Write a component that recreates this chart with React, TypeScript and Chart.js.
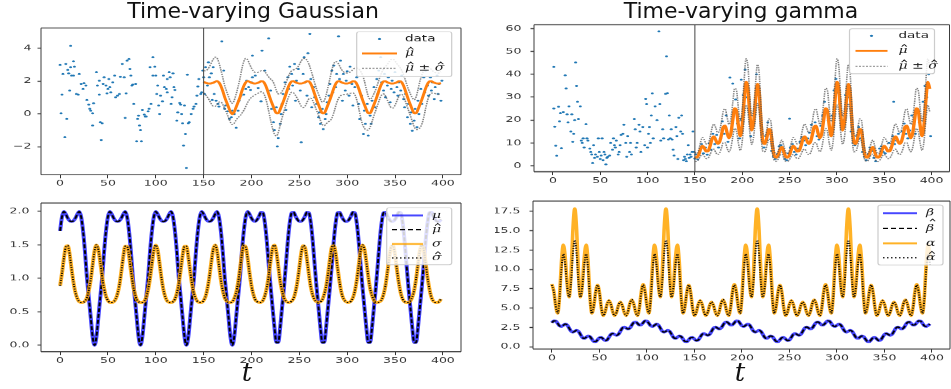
import React, { useEffect, useRef } from 'react';
import { Chart, registerables } from 'chart.js';

Chart.register(...registerables);

// vertical squash of the plot panels (the reference figure is compressed vertically)
const SY = 0.65;
const SPLIT_T = 150;

// ---------------- ticks ----------------
const X_TICKS = [0, 50, 100, 150, 200, 250, 300, 350, 400];
const Y_TICKS_GAUSS = [-2, 0, 2, 4];
const Y_TICKS_GAMMA = [0, 10, 20, 30, 40, 50, 60];
const Y_TICKS_MUSIG = [0, 0.5, 1, 1.5, 2];
const Y_TICKS_ALPHABETA = [0, 2.5, 5, 7.5, 10, 12.5, 15, 17.5];

// ---------------- time grids ----------------
const CURVE_T = Array.from({ length: 200 }, (_, i) => i * 2); // 0..398
const FIT_T = Array.from({ length: 125 }, (_, i) => 150 + i * 2); // 150..398

// ---------------- Gaussian parameters (bottom-left) ----------------
const mu = [
  1.71, 1.92, 2.0, 1.96, 1.9, 1.86, 1.85, 1.86, 1.9, 1.96, 2.0, 1.92, 1.71, 1.4, 1.02, 0.72, 0.42, 0.13, 0.0,
  0.13, 0.42, 0.72, 1.02, 1.4, 1.71, 1.92, 2.0, 1.96, 1.9, 1.86, 1.85, 1.86, 1.9, 1.96, 2.0, 1.92, 1.71, 1.4, 1.02, 0.72, 0.42, 0.13, 0.0,
  0.13, 0.42, 0.72, 1.02, 1.4, 1.71, 1.92, 2.0, 1.96, 1.9, 1.86, 1.85, 1.86, 1.9, 1.96, 2.0, 1.92, 1.71, 1.4, 1.02, 0.72, 0.42, 0.13, 0.0,
  0.13, 0.42, 0.72, 1.02, 1.4, 1.71, 1.92, 2.0, 1.96, 1.9, 1.86, 1.85, 1.86, 1.9, 1.96, 2.0, 1.92, 1.71, 1.4, 1.02, 0.72, 0.42, 0.13, 0.0,
  0.13, 0.42, 0.72, 1.02, 1.4, 1.71, 1.92, 2.0, 1.96, 1.9, 1.86, 1.85, 1.88, 1.93, 1.99, 1.98, 1.83, 1.56, 1.21, 0.87, 0.57, 0.27, 0.04,
  0.04, 0.27, 0.57, 0.87, 1.21, 1.56, 1.83, 1.98, 1.99, 1.93, 1.88, 1.85, 1.85, 1.88, 1.93, 1.99, 1.98, 1.83, 1.56, 1.21, 0.87, 0.57, 0.27, 0.04,
  0.04, 0.27, 0.57, 0.87, 1.21, 1.56, 1.83, 1.98, 1.99, 1.93, 1.88, 1.85, 1.85, 1.88, 1.93, 1.99, 1.98, 1.83, 1.56, 1.21, 0.87, 0.57, 0.27, 0.04,
  0.04, 0.27, 0.57, 0.87, 1.21, 1.56, 1.83, 1.98, 1.99, 1.93, 1.88, 1.85, 1.85, 1.88, 1.93, 1.99, 1.98, 1.83, 1.56, 1.21, 0.87, 0.57, 0.27, 0.04,
  0.04, 0.27, 0.57, 0.87, 1.21, 1.56, 1.83, 1.98, 1.99, 1.93, 1.88, 1.85, 1.85, 1.88,
];
const muHat = mu;

const sigma = [
  0.89, 1.08, 1.3, 1.47, 1.49, 1.36, 1.14, 0.94, 0.79, 0.7, 0.65, 0.64,
  0.64, 0.66, 0.71, 0.82, 0.98, 1.2, 1.41, 1.5, 1.43, 1.24, 1.02, 0.85, 0.73, 0.67, 0.64,
  0.64, 0.65, 0.69, 0.77, 0.9, 1.1, 1.32, 1.48, 1.48, 1.34, 1.12, 0.92, 0.78, 0.69, 0.65, 0.64,
  0.64, 0.66, 0.72, 0.83, 1.0, 1.22, 1.42, 1.5, 1.42, 1.22, 1.0, 0.83, 0.72, 0.66, 0.64,
  0.64, 0.65, 0.69, 0.78, 0.92, 1.12, 1.34, 1.48, 1.48, 1.32, 1.1, 0.9, 0.77, 0.69, 0.65, 0.64,
  0.64, 0.67, 0.73, 0.85, 1.02, 1.24, 1.43, 1.5, 1.41, 1.2, 0.98, 0.82, 0.71, 0.66, 0.64,
  0.64, 0.65, 0.7, 0.79, 0.94, 1.14, 1.36, 1.49, 1.47, 1.3, 1.08, 0.89, 0.76, 0.68, 0.65, 0.64,
  0.64, 0.67, 0.74, 0.86, 1.04, 1.26, 1.45, 1.5, 1.39, 1.18, 0.96, 0.81, 0.71, 0.66, 0.64,
  0.64, 0.66, 0.7, 0.8, 0.95, 1.16, 1.38, 1.49, 1.46, 1.28, 1.06, 0.87, 0.75, 0.68, 0.65,
  0.64, 0.65, 0.68, 0.76, 0.88, 1.07, 1.29, 1.47, 1.49, 1.37, 1.15, 0.95, 0.79, 0.7, 0.66, 0.64,
  0.64, 0.66, 0.71, 0.81, 0.97, 1.19, 1.4, 1.5, 1.44, 1.25, 1.03, 0.85, 0.74, 0.67, 0.64,
  0.64, 0.65, 0.68, 0.76, 0.89, 1.09, 1.31, 1.47, 1.49, 1.35, 1.13, 0.93, 0.78, 0.69, 0.65, 0.64,
  0.64, 0.66, 0.72, 0.82, 0.99, 1.21, 1.42, 1.5, 1.43, 1.23, 1.01, 0.84, 0.72, 0.66, 0.64, 0.64, 0.65, 0.69,
];
const sigmaHat = sigma;

// ---------------- gamma parameters (bottom-right) ----------------
const alpha = [
  8.1, 7.15, 5.25, 4.3, 6.53, 10.98, 13.2, 11.5, 8.1, 6.4, 9.28, 15.03, 17.9, 15.03, 9.28, 6.4, 8.1, 11.5, 13.2, 10.98, 6.53, 4.3, 5.23, 7.08,
  8.0, 7.0, 5.0, 4.0, 4.5, 5.5, 6.0, 5.5, 4.5, 4.0, 4.45, 5.35, 5.8, 5.35, 4.45, 4.0, 4.53, 5.58, 6.1, 5.58, 4.53, 4.0, 5.03, 7.08,
  8.1, 7.15, 5.25, 4.3, 6.53, 10.98, 13.2, 11.5, 8.1, 6.4, 9.28, 15.03, 17.9, 15.03, 9.28, 6.4, 8.1, 11.5, 13.2, 10.98, 6.53, 4.3, 5.23, 7.08,
  8.0, 7.0, 5.0, 4.0, 4.5, 5.5, 6.0, 5.5, 4.5, 4.0, 4.45, 5.35, 5.8, 5.35, 4.45, 4.0, 4.53, 5.58, 6.1, 5.58, 4.53, 4.0, 5.03, 7.08,
  8.1, 7.15, 5.25, 4.3, 6.53, 10.98, 13.2, 11.5, 8.1, 6.4, 9.28, 15.03, 17.9, 15.03, 9.28, 6.4, 8.1, 11.5, 13.2, 10.98, 6.53, 4.3, 5.23, 7.08,
  8.0, 7.0, 5.0, 4.0, 4.5, 5.5, 6.0, 5.5, 4.5, 4.0, 4.45, 5.35, 5.8, 5.35, 4.45, 4.0, 4.53, 5.58, 6.1, 5.58, 4.53, 4.0, 5.03, 7.08,
  8.1, 7.15, 5.25, 4.3, 6.53, 10.98, 13.2, 11.5, 8.1, 6.4, 9.28, 15.03, 17.9, 15.03, 9.28, 6.4, 8.1, 11.5, 13.2, 10.98, 6.53, 4.3, 5.23, 7.08,
  8.0, 7.0, 5.0, 4.0, 4.5, 5.5, 6.0, 5.5, 4.5, 4.0, 4.45, 5.35, 5.8, 5.35, 4.45, 4.0, 4.53, 5.58, 6.1, 5.58, 4.53, 4.0, 5.03, 7.08,
  8.1, 7.15, 5.25, 4.3, 6.53, 10.98, 13.2, 11.5,
];
const alphaHat = [
  8.0, 7.08, 5.23, 4.3, 6.23, 10.08, 12.0, 10.6, 7.8, 6.4, 8.25, 11.95, 13.8, 11.95, 8.25, 6.4, 7.8, 10.6, 12.0, 10.08, 6.23, 4.3, 5.23, 7.08,
  8.0, 7.0, 5.0, 4.0, 4.5, 5.5, 6.0, 5.5, 4.5, 4.0, 4.45, 5.35, 5.8, 5.35, 4.45, 4.0, 4.53, 5.58, 6.1, 5.58, 4.53, 4.0, 5.0, 7.0,
  8.0, 7.08, 5.23, 4.3, 6.23, 10.08, 12.0, 10.6, 7.8, 6.4, 8.25, 11.95, 13.8, 11.95, 8.25, 6.4, 7.8, 10.6, 12.0, 10.08, 6.23, 4.3, 5.23, 7.08,
  8.0, 7.0, 5.0, 4.0, 4.5, 5.5, 6.0, 5.5, 4.5, 4.0, 4.45, 5.35, 5.8, 5.35, 4.45, 4.0, 4.53, 5.58, 6.1, 5.58, 4.53, 4.0, 5.0, 7.0,
  8.0, 7.08, 5.23, 4.3, 6.23, 10.08, 12.0, 10.6, 7.8, 6.4, 8.25, 11.95, 13.8, 11.95, 8.25, 6.4, 7.8, 10.6, 12.0, 10.08, 6.23, 4.3, 5.23, 7.08,
  8.0, 7.0, 5.0, 4.0, 4.5, 5.5, 6.0, 5.5, 4.5, 4.0, 4.45, 5.35, 5.8, 5.35, 4.45, 4.0, 4.53, 5.58, 6.1, 5.58, 4.53, 4.0, 5.0, 7.0,
  8.0, 7.08, 5.23, 4.3, 6.23, 10.08, 12.0, 10.6, 7.8, 6.4, 8.25, 11.95, 13.8, 11.95, 8.25, 6.4, 7.8, 10.6, 12.0, 10.08, 6.23, 4.3, 5.23, 7.08,
  8.0, 7.0, 5.0, 4.0, 4.5, 5.5, 6.0, 5.5, 4.5, 4.0, 4.45, 5.35, 5.8, 5.35, 4.45, 4.0, 4.53, 5.58, 6.1, 5.58, 4.53, 4.0, 5.0, 7.0,
  8.0, 7.08, 5.23, 4.3, 6.23, 10.08, 12.0, 10.6,
];
const beta = [
  3.1, 3.35, 3.32, 3.02, 2.69, 2.61, 2.78, 2.93, 2.81, 2.42, 2.02, 1.88, 2.0, 2.12, 1.98, 1.58, 1.19, 1.07, 1.22, 1.39, 1.31, 0.98, 0.68, 0.65,
  0.9, 1.17, 1.2, 0.98, 0.79, 0.87, 1.22, 1.59, 1.71, 1.58, 1.46, 1.6, 2.0, 2.4, 2.54, 2.42, 2.29, 2.41, 2.78, 3.13, 3.21, 3.02, 2.8, 2.83,
  3.1, 3.35, 3.32, 3.02, 2.69, 2.61, 2.78, 2.93, 2.81, 2.42, 2.02, 1.88, 2.0, 2.12, 1.98, 1.58, 1.19, 1.07, 1.22, 1.39, 1.31, 0.98, 0.68, 0.65,
  0.9, 1.17, 1.2, 0.98, 0.79, 0.87, 1.22, 1.59, 1.71, 1.58, 1.46, 1.6, 2.0, 2.4, 2.54, 2.42, 2.29, 2.41, 2.78, 3.13, 3.21, 3.02, 2.8, 2.83,
  3.1, 3.35, 3.32, 3.02, 2.69, 2.61, 2.78, 2.93, 2.81, 2.42, 2.02, 1.88, 2.0, 2.12, 1.98, 1.58, 1.19, 1.07, 1.22, 1.39, 1.31, 0.98, 0.68, 0.65,
  0.9, 1.17, 1.2, 0.98, 0.79, 0.87, 1.22, 1.59, 1.71, 1.58, 1.46, 1.6, 2.0, 2.4, 2.54, 2.42, 2.29, 2.41, 2.78, 3.13, 3.21, 3.02, 2.8, 2.83,
  3.1, 3.35, 3.32, 3.02, 2.69, 2.61, 2.78, 2.93, 2.81, 2.42, 2.02, 1.88, 2.0, 2.12, 1.98, 1.58, 1.19, 1.07, 1.22, 1.39, 1.31, 0.98, 0.68, 0.65,
  0.9, 1.17, 1.2, 0.98, 0.79, 0.87, 1.22, 1.59, 1.71, 1.58, 1.46, 1.6, 2.0, 2.4, 2.54, 2.42, 2.29, 2.41, 2.78, 3.13, 3.21, 3.02, 2.8, 2.83,
  3.1, 3.35, 3.32, 3.02, 2.69, 2.61, 2.78, 2.93,
];
const betaHat = beta;

// ---------------- gamma fit (top-right), t = 150..398 ----------------
const gammaMuHat = [
  3.9, 3.6, 4.8, 7.3, 8.7, 7.7, 6.3, 6.5, 8.6, 11.6, 12.8, 11.3, 9.7, 10.4, 13.4, 17.0, 17.5, 14.5, 12.1, 14.1, 20.0,
  25.1, 24.0, 17.4, 13.0, 17.6, 28.7, 36.7, 33.7, 22.8, 15.5, 18.7, 28.3, 35.8, 31.9, 18.4, 10.1, 9.6, 12.3, 16.1, 15.3, 8.6, 4.2, 3.6, 4.6,
  7.2, 8.2, 6.0, 3.9, 3.6, 4.8, 7.3, 8.7, 7.7, 6.3, 6.5, 8.6, 11.6, 12.8, 11.3, 9.7, 10.4, 13.4, 17.0, 17.5, 14.5, 12.1, 14.1, 20.0,
  25.1, 24.0, 17.4, 13.0, 17.6, 28.7, 36.7, 33.7, 22.8, 15.5, 18.7, 28.3, 35.8, 31.9, 18.4, 10.1, 9.6, 12.3, 16.1, 15.3, 8.6, 4.2, 3.6, 4.6,
  7.2, 8.2, 6.0, 3.9, 3.6, 4.8, 7.3, 8.7, 7.7, 6.3, 6.5, 8.6, 11.6, 12.8, 11.3, 9.7, 10.4, 13.4, 17.0, 17.5, 14.5, 12.1, 14.1, 20.0,
  25.1, 24.0, 17.4, 13.0, 17.6, 28.7, 36.7, 33.7,
];
const gammaSdHat = [
  2.0, 1.7, 2.0, 3.0, 3.7, 3.6, 3.2, 3.1, 3.7, 4.8, 5.5, 5.4, 4.8, 4.9, 5.7, 6.9, 7.4, 6.8, 6.0, 6.3, 7.5,
  8.8, 8.9, 7.6, 6.3, 6.9, 8.6, 10.1, 9.9, 8.0, 6.1, 6.2, 7.3, 8.5, 8.2, 6.0, 4.0, 3.4, 3.6, 4.4, 4.6, 3.4, 2.0, 1.6, 1.7,
  2.5, 3.1, 2.7, 2.0, 1.7, 2.0, 3.0, 3.7, 3.6, 3.2, 3.1, 3.7, 4.8, 5.5, 5.4, 4.8, 4.9, 5.7, 6.9, 7.4, 6.8, 6.0, 6.3, 7.5,
  8.8, 8.9, 7.6, 6.3, 6.9, 8.6, 10.1, 9.9, 8.0, 6.1, 6.2, 7.3, 8.5, 8.2, 6.0, 4.0, 3.4, 3.6, 4.4, 4.6, 3.4, 2.0, 1.6, 1.7,
  2.5, 3.1, 2.7, 2.0, 1.7, 2.0, 3.0, 3.7, 3.6, 3.2, 3.1, 3.7, 4.8, 5.5, 5.4, 4.8, 4.9, 5.7, 6.9, 7.4, 6.8, 6.0, 6.3, 7.5,
  8.8, 8.9, 7.6, 6.3, 6.9, 8.6, 10.1, 9.9,
];

// ---------------- observed data (top panels) ----------------
const gaussT = [
  0, 1, 2, 3, 5, 6, 7, 8, 9, 10, 11, 11, 12, 14, 14, 15, 17, 19, 20, 22, 24, 25, 27, 28, 30, 31, 32, 34, 34, 35,
  38, 39, 41, 41, 42, 43, 44, 45, 46, 48, 49, 50, 51, 52, 53, 55, 57, 58, 60, 62, 63, 65, 67, 68, 69, 70, 72, 73, 74, 75,
  76, 77, 79, 80, 81, 82, 83, 84, 85, 86, 88, 89, 90, 92, 93, 94, 95, 97, 97, 99, 100, 101, 102, 103, 104, 105, 107, 108, 109, 111,
  112, 112, 114, 115, 116, 117, 118, 119, 120, 122, 123, 125, 126, 127, 128, 129, 130, 131, 132, 133, 134, 135, 137, 139, 140, 142, 143, 144, 145, 147,
  148, 149, 150, 151, 152, 154, 155, 156, 158, 159, 160, 161, 163, 165, 166, 169, 171, 172, 173, 175, 177, 179, 180, 182, 184, 186, 187, 189, 192, 194,
  195, 197, 199, 200, 201, 201, 204, 207, 210, 211, 214, 218, 220, 221, 223, 224, 226, 227, 228, 230, 231, 232, 233, 235, 236, 238, 239, 240, 242, 243,
  245, 246, 247, 249, 251, 252, 254, 255, 256, 258, 259, 261, 262, 263, 265, 266, 268, 270, 271, 272, 274, 275, 277, 278, 279, 281, 282, 284, 285, 286,
  288, 289, 291, 292, 293, 295, 296, 298, 299, 300, 302, 303, 305, 306, 308, 310, 312, 313, 315, 317, 318, 319, 321, 322, 324, 325, 326, 328, 329, 331,
  332, 333, 335, 336, 338, 339, 340, 342, 343, 345, 346, 347, 349, 350, 352, 353, 354, 356, 357, 359, 360, 361, 363, 364, 366, 367, 368, 370, 371, 373,
  374, 375, 377, 378, 380, 381, 382, 384, 385, 387, 388, 389, 391, 392, 394, 395, 396, 398, 399,
];
const gaussY = [
  2.99, 0.04, 1.18, 2.44, -1.42, 3.05, -0.3, 2.68, 2.48, 1.42, 4.15, 2.85, 2.34, 3.21, 2.34, 2.88, 1.22, 1.18, 2.44, 1.83, 1.52, 1.87, 1.73, 0.85, 0.57, 0.31, 0.2, -0.71, 0.04, 0.65,
  2.54, 1.73, 1.18, 2.03, -0.51, -1.59, -0.57, 1.83, 2.24, 1.73, 1.26, 1.52, 2.13, 1.63, 1.32, 1.93, 2.34, 1.02, 1.12, 1.22, 2.27, 3.05, 2.24, -0.24, 1.26, 3.25, 3.35, 2.74, 2.34, 1.73,
  1.79, 0.61, 1.83, -1.67, -0.3, -0.1, -0.71, -0.98, -1.67, 0.24, -0.04, -0.16, -0.16, 0.16, 0.31, 2.85, 0.61, 3.46, 2.34, 2.88, 2.34, 1.22, 1.73, 0.51, 0.0, 1.12, 0.77, 2.34, 1.63, 1.52,
  2.13, 1.32, 2.54, 2.24, 0.61, 1.02, 2.48, 1.63, 1.46, -0.41, 0.1, 0.67, 0.57, 0.0, -0.57, -1.93, 0.51, -1.22, -3.29, 2.4, -0.57, -0.51, 0.0, 0.31, 0.45, 0.61, 1.12, 1.67, 2.13, 1.22,
  1.32, 2.64, 2.24, 1.22, 2.85, 1.73, 3.15, 2.24, 2.48, 0.85, 2.85, 1.22, 0.81, 0.61, 0.45, 4.43, 2.64, 0.31, 0.51, 0.16, -0.3, -0.2, 0.2, 0.0, -0.85, 0.2, 0.81, 1.12, 1.18, 1.52,
  2.03, 1.63, 1.46, 1.93, 2.24, 3.56, 2.34, 1.58, 0.77, 3.86, 2.64, 4.61, 1.42, 0.3, -0.51, -0.98, 0.4, -1.99, -1.47, -0.61, 0.0, 0.61, 1.22, 1.93, 0.24, 2.24, 1.52, 2.88, 2.44, 1.73,
  3.05, 0.81, 2.03, 2.74, 1.42, -1.73, 2.44, 3.46, 1.93, 1.12, 3.7, 4.88, 2.13, 0.4, 1.63, 1.02, 0.61, -0.2, 0.1, -0.61, 0.3, -0.92, -0.31, 0.0, 0.71, 1.12, 1.83, 2.64, 1.32, 2.95,
  1.63, 2.44, 4.74, 2.13, 3.25, 0.81, 2.44, 1.42, 2.03, 2.6, 1.12, 2.88, 1.83, 0.51, 1.63, 2.24, 0.61, -0.31, 1.12, -1.22, 0.2, -0.61, 0.61, -1.32, -0.1, -0.61, 0.81, 1.63, 0.4, 2.13,
  1.22, 2.64, 3.46, 1.93, 1.42, 2.44, 1.02, 1.73, 2.24, 0.71, 1.52, 2.03, 1.32, 2.54, 1.63, 1.12, 1.93, 1.42, 2.34, 0.91, 0.4, 1.22, -0.2, 0.61, -0.61, 0.1, -1.02, -0.41, 0.3, -0.81,
  0.81, 0.0, 1.52, 0.61, 2.24, 1.32, 2.64, 1.73, 1.12, 2.24, 1.42, 1.93, 0.91, 1.63, 2.34, 1.22, 1.83, 0.81, 2.03,
];
const gammaT = [
  1, 1, 2, 3, 4, 6, 7, 8, 9, 11, 13, 14, 15, 16, 17, 19, 20, 21, 22, 23, 24, 25, 26, 27, 29, 30, 31, 32, 33, 35,
  36, 37, 39, 40, 41, 42, 43, 44, 45, 47, 48, 49, 50, 51, 52, 53, 54, 55, 56, 57, 58, 60, 61, 63, 64, 65, 66, 67, 69, 70,
  71, 72, 74, 75, 77, 78, 79, 81, 82, 83, 86, 87, 88, 89, 91, 92, 93, 95, 97, 98, 99, 100, 101, 102, 103, 104, 105, 106, 108, 110,
  112, 113, 114, 116, 117, 119, 120, 121, 122, 123, 124, 125, 126, 127, 128, 130, 131, 132, 133, 135, 136, 137, 138, 139, 140, 141, 142, 143, 144, 145,
  146, 147, 148, 149, 150, 151, 153, 155, 157, 159, 161, 163, 165, 167, 169, 171, 173, 175, 177, 179, 181, 183, 185, 187, 189, 190, 191, 193, 195, 197,
  199, 199, 201, 203, 205, 207, 209, 211, 213, 215, 217, 219, 221, 223, 225, 227, 229, 231, 233, 235, 237, 239, 241, 243, 245, 247, 249, 250, 251, 253,
  255, 257, 259, 261, 263, 265, 267, 269, 271, 273, 275, 277, 279, 281, 283, 285, 287, 289, 291, 293, 295, 297, 299, 301, 303, 305, 307, 309, 311, 313,
  315, 317, 319, 321, 323, 325, 327, 329, 331, 333, 335, 337, 339, 341, 343, 345, 347, 349, 351, 353, 355, 357, 359, 360, 361, 363, 365, 367, 369, 371,
  373, 375, 377, 379, 381, 383, 385, 387, 389, 391, 393, 395, 397, 399,
];
const gammaY = [
  43.3, 25.1, 17.1, 8.8, 4.4, 25.9, 19.5, 23.0, 7.7, 23.5, 39.6, 33.8, 22.5, 19.0, 26.0, 15.0, 22.5, 10.5, 14.0, 20.0, 45.2, 35.0, 28.0, 20.5, 26.0, 11.0, 10.0, 12.0, 8.0, 18.2,
  12.0, 11.0, 7.5, 6.0, 5.0, 1.2, 9.0, 3.5, 5.0, 4.0, 12.0, 6.0, 3.0, 4.5, 12.0, 2.5, 6.0, 5.0, 0.6, 3.5, 4.0, 4.5, 10.0, 7.0, 12.0, 9.0, 8.0, 11.0, 5.0, 6.0,
  9.0, 13.5, 14.0, 18.0, 10.0, 4.0, 13.0, 6.0, 10.0, 5.0, 20.5, 16.0, 8.0, 10.0, 18.0, 15.0, 6.0, 17.0, 9.0, 29.3, 27.0, 8.0, 14.0, 17.0, 10.0, 22.0, 31.7, 12.0, 26.0, 20.0,
  58.8, 27.0, 11.0, 16.0, 12.0, 31.5, 47.9, 31.8, 11.5, 22.0, 12.0, 16.0, 11.5, 7.0, 4.5, 17.0, 13.0, 3.0, 21.0, 15.0, 22.0, 14.0, 2.5, 4.0, 3.0, 2.0, 5.0, 9.0, 3.5, 5.0,
  4.0, 6.0, 15.0, 6.0, 3.2, 5.0, 2.8, 6.2, 9.5, 5.5, 8.0, 4.9, 9.8, 7.0, 14.0, 9.5, 13.5, 8.0, 12.0, 19.5, 14.0, 22.0, 10.5, 38.6, 16.0, 36.0, 22.0, 29.0, 18.5, 12.0,
  37.7, 20.5, 31.0, 42.0, 30.0, 25.0, 13.0, 17.5, 24.0, 40.0, 31.0, 26.0, 11.0, 8.0, 13.0, 19.0, 14.0, 6.5, 4.0, 3.0, 5.0, 8.5, 9.0, 6.0, 3.0, 2.5, 5.5, 20.6, 8.0, 9.5,
  6.0, 5.0, 7.5, 10.5, 12.5, 11.0, 9.0, 12.0, 14.5, 18.0, 15.0, 19.0, 13.0, 11.5, 17.5, 22.0, 28.0, 24.0, 20.0, 15.0, 22.0, 33.0, 38.0, 32.0, 27.0, 16.0, 20.0, 31.0, 34.0, 30.0,
  15.0, 10.0, 9.0, 13.0, 17.0, 12.0, 6.0, 4.0, 2.5, 5.0, 8.0, 6.5, 3.5, 2.0, 4.0, 7.5, 8.5, 6.0, 5.5, 7.0, 10.0, 8.0, 13.0, 28.0, 9.5, 11.0, 14.0, 10.0, 15.0, 18.5,
  14.0, 12.0, 15.5, 22.0, 18.0, 14.0, 23.0, 19.0, 16.0, 28.0, 35.0, 30.0, 40.0, 13.0,
];

// ---------------- helpers ----------------
const pts = (xs: number[], ys: number[]) => xs.map((x, i) => ({ x, y: ys[i] }));
const fitIdx = CURVE_T.indexOf(SPLIT_T);

const C_DATA = '#1f77b4';
const C_ORANGE = '#ff7f0e';
const C_BAND = 'rgba(85,85,85,0.75)';
const C_BLUE = 'rgba(0,0,255,0.72)';
const C_GOLD = 'rgba(255,165,0,0.85)';
const C_BLACK = '#000000';

function lineDs(data: any[], color: string, width: number, dash: number[], order: number) {
  return {
    type: 'line',
    data,
    borderColor: color,
    borderWidth: width,
    borderDash: dash,
    pointRadius: 0,
    pointHoverRadius: 0,
    fill: false,
    cubicInterpolationMode: 'monotone',
    order,
  };
}
function scatterDs(data: any[], order: number) {
  return {
    type: 'line',
    data,
    showLine: false,
    pointRadius: 1.5,
    pointHoverRadius: 0,
    pointBorderWidth: 0,
    pointBackgroundColor: C_DATA,
    order,
  };
}

const fmtMinus = (v: number) => (v < 0 ? '\u2212' + Math.abs(v) : String(v));
const fmt1 = (v: number) => Number(v).toFixed(1);

const LEG_MATH = 'italic 14px "DejaVu Serif"';
const LEG_TEXT = '13.5px "DejaVu Sans"';

// legend label parts: [text, hasHat, isMath, extra hat lift]
const L_DATA = [['data', false, false, 0]];
const L_MU = [['\u03bc', false, true, 0]];
const L_MUHAT = [['\u03bc', true, true, 0]];
const L_BAND = [['\u03bc', true, true, 0], [' \u00b1 ', false, true, 0], ['\u03c3', true, true, 0]];
const L_SIG = [['\u03c3', false, true, 0]];
const L_SIGHAT = [['\u03c3', true, true, 0]];
const L_BETA = [['\u03b2', false, true, 0]];
const L_BETAHAT = [['\u03b2', true, true, 4.5]];
const L_ALPHA = [['\u03b1', false, true, 0]];
const L_ALPHAHAT = [['\u03b1', true, true, 0]];

// ---------------- panel specifications ----------------
const gaussFitMu = muHat.slice(fitIdx);
const gaussFitSd = sigmaHat.slice(fitIdx);

const PANELS: any[] = [
  {
    key: 'gauss',
    left: 0, top: 14, width: 470, height: 181,
    yAxisW: 41, padTop: 14, padRight: 9, xAxisH: 20, yPad: 6,
    xMin: -19.95, xMax: 418.95, yMin: -3.71, yMax: 5.24,
    yTicks: Y_TICKS_GAUSS, yFmt: fmtMinus, split: SPLIT_T,
    datasets: [
      scatterDs(pts(gaussT, gaussY), 4),
      lineDs(pts(FIT_T, gaussFitMu), C_ORANGE, 3, [], 3),
      lineDs(pts(FIT_T, gaussFitMu.map((m, i) => m + gaussFitSd[i])), C_BAND, 1.6, [2, 1.5], 2),
      lineDs(pts(FIT_T, gaussFitMu.map((m, i) => m - gaussFitSd[i])), C_BAND, 1.6, [2, 1.5], 1),
    ],
    legend: {
      right: 9.3, top: 3.7, w: 95, h: 45, handleX: 5.3, handleLen: 35, textX: 48.3, rows: [7.3, 21.8, 36.6],
      items: [
        { parts: L_DATA, kind: 'dot', color: C_DATA },
        { parts: L_MUHAT, kind: 'line', color: C_ORANGE, width: 3 },
        { parts: L_BAND, kind: 'line', color: C_BAND, width: 1.4, dash: [2, 1.5] },
      ],
    },
  },
  {
    key: 'gamma',
    left: 495, top: 14, width: 456, height: 181,
    yAxisW: 39, padTop: 10, padRight: 1, xAxisH: 23, yPad: 9,
    xMin: -19.95, xMax: 418.95, yMin: -2.6, yMax: 61.7,
    yTicks: Y_TICKS_GAMMA, yFmt: (v: number) => String(v), split: SPLIT_T,
    datasets: [
      scatterDs(pts(gammaT, gammaY), 4),
      lineDs(pts(FIT_T, gammaMuHat), C_ORANGE, 3.4, [], 3),
      lineDs(pts(FIT_T, gammaMuHat.map((m, i) => m + gammaSdHat[i])), C_BAND, 1.6, [2, 1.5], 2),
      lineDs(pts(FIT_T, gammaMuHat.map((m, i) => m - gammaSdHat[i])), C_BAND, 1.6, [2, 1.5], 1),
    ],
    legend: {
      right: 15, top: 4, w: 85, h: 45, handleX: 6, handleLen: 32, textX: 49, rows: [7, 22, 37.5],
      items: [
        { parts: L_DATA, kind: 'dot', color: C_DATA },
        { parts: L_MUHAT, kind: 'line', color: C_ORANGE, width: 3 },
        { parts: L_BAND, kind: 'line', color: C_BAND, width: 1.4, dash: [2, 1.5] },
      ],
    },
  },
  {
    key: 'musig',
    left: 0, top: 190, width: 470, height: 195,
    yAxisW: 41, padTop: 13, padRight: 9, xAxisH: 33.3, yPad: 8,
    xMin: -19.95, xMax: 418.95, yMin: -0.096, yMax: 2.126,
    yTicks: Y_TICKS_MUSIG, yFmt: fmt1,
    datasets: [
      lineDs(pts(CURVE_T, mu), C_BLUE, 4, [], 4),
      lineDs(pts(CURVE_T, muHat), C_BLACK, 2, [6, 3], 3),
      lineDs(pts(CURVE_T, sigma), C_GOLD, 4, [], 2),
      lineDs(pts(CURVE_T, sigmaHat), C_BLACK, 2, [1.5, 2.2], 1),
    ],
    legend: {
      right: 9.3, top: 4.7, w: 65, h: 57, handleX: 5.3, handleLen: 31, textX: 45.3, rows: [7.7, 22, 36.3, 50.3],
      items: [
        { parts: L_MU, kind: 'line', color: C_BLUE, width: 3 },
        { parts: L_MUHAT, kind: 'line', color: C_BLACK, width: 2, dash: [5, 3] },
        { parts: L_SIG, kind: 'line', color: C_GOLD, width: 3 },
        { parts: L_SIGHAT, kind: 'line', color: C_BLACK, width: 2, dash: [1.5, 2.5] },
      ],
    },
  },
  {
    key: 'alphabeta',
    left: 495, top: 190, width: 456, height: 195,
    yAxisW: 38, padTop: 11, padRight: 1, xAxisH: 36, yPad: 9,
    xMin: -19.95, xMax: 418.95, yMin: -0.3, yMax: 18.85,
    yTicks: Y_TICKS_ALPHABETA, yFmt: fmt1,
    datasets: [
      lineDs(pts(CURVE_T, beta), C_BLUE, 4, [], 4),
      lineDs(pts(CURVE_T, betaHat), C_BLACK, 2, [6, 3], 3),
      lineDs(pts(CURVE_T, alpha), C_GOLD, 3.6, [], 2),
      lineDs(pts(CURVE_T, alphaHat), C_BLACK, 2, [1.5, 2.2], 1),
    ],
    legend: {
      right: 7, top: 4, w: 65, h: 60, handleX: 5, handleLen: 34, textX: 48, rows: [8.3, 23.3, 38.3, 52.7],
      items: [
        { parts: L_BETA, kind: 'line', color: C_BLUE, width: 3 },
        { parts: L_BETAHAT, kind: 'line', color: C_BLACK, width: 2, dash: [5, 3] },
        { parts: L_ALPHA, kind: 'line', color: C_GOLD, width: 3 },
        { parts: L_ALPHAHAT, kind: 'line', color: C_BLACK, width: 2, dash: [1.5, 2.5] },
      ],
    },
  },
];

// ---------------- plugin: frame, split line, legend ----------------
function drawLabel(ctx: any, parts: any[], x0: number, cy: number) {
  let x = x0;
  ctx.fillStyle = '#1a1a1a';
  ctx.textAlign = 'left';
  ctx.textBaseline = 'middle';
  parts.forEach(([text, hat, math, lift]: any) => {
    ctx.font = math ? LEG_MATH : LEG_TEXT;
    ctx.fillText(text, x, cy);
    const w = ctx.measureText(text).width;
    if (hat) {
      const hx = x + w / 2 + 1.2 + lift * 0.3;
      const hy = cy - 8.5 - lift;
      ctx.save();
      ctx.strokeStyle = '#1a1a1a';
      ctx.lineWidth = 1.1;
      ctx.beginPath();
      ctx.moveTo(hx - 2.6, hy + 2.2);
      ctx.lineTo(hx, hy - 1.2);
      ctx.lineTo(hx + 2.6, hy + 2.2);
      ctx.stroke();
      ctx.restore();
    }
    x += w;
  });
}

function overlayPlugin(spec: any) {
  return {
    id: 'overlay-' + spec.key,
    afterDatasetsDraw(chart: any) {
      const { ctx, chartArea: a, scales } = chart;
      ctx.save();
      if (spec.split != null) {
        const x = scales.x.getPixelForValue(spec.split);
        ctx.strokeStyle = '#444';
        ctx.lineWidth = 1;
        ctx.beginPath();
        ctx.moveTo(x, a.top);
        ctx.lineTo(x, a.bottom);
        ctx.stroke();
      }
      ctx.strokeStyle = '#3c3c3c';
      ctx.lineWidth = 1;
      ctx.beginPath();
      ctx.moveTo(a.left, a.top);
      ctx.lineTo(a.left, a.bottom);
      ctx.moveTo(a.right, a.top);
      ctx.lineTo(a.right, a.bottom);
      ctx.stroke();
      ctx.lineWidth = 1 / SY;
      ctx.beginPath();
      ctx.moveTo(a.left, a.top);
      ctx.lineTo(a.right, a.top);
      ctx.moveTo(a.left, a.bottom);
      ctx.lineTo(a.right, a.bottom);
      ctx.stroke();

      const L = spec.legend;
      const bx = a.right - L.right - L.w;
      const by = a.top + L.top / SY;
      const bw = L.w;
      const bh = L.h / SY;
      const r = 3;
      ctx.beginPath();
      ctx.moveTo(bx + r, by);
      ctx.lineTo(bx + bw - r, by);
      ctx.quadraticCurveTo(bx + bw, by, bx + bw, by + r);
      ctx.lineTo(bx + bw, by + bh - r);
      ctx.quadraticCurveTo(bx + bw, by + bh, bx + bw - r, by + bh);
      ctx.lineTo(bx + r, by + bh);
      ctx.quadraticCurveTo(bx, by + bh, bx, by + bh - r);
      ctx.lineTo(bx, by + r);
      ctx.quadraticCurveTo(bx, by, bx + r, by);
      ctx.closePath();
      ctx.fillStyle = 'rgba(255,255,255,0.82)';
      ctx.fill();
      ctx.strokeStyle = '#cccccc';
      ctx.lineWidth = 1.2;
      ctx.stroke();

      L.items.forEach((it: any, i: number) => {
        const cy = by + L.rows[i] / SY;
        const hx = bx + L.handleX;
        if (it.kind === 'dot') {
          ctx.fillStyle = it.color;
          ctx.beginPath();
          ctx.arc(hx + L.handleLen / 2, cy, 1.6, 0, Math.PI * 2);
          ctx.fill();
        } else {
          ctx.strokeStyle = it.color;
          ctx.lineWidth = it.width;
          ctx.setLineDash(it.dash || []);
          ctx.beginPath();
          ctx.moveTo(hx, cy);
          ctx.lineTo(hx + L.handleLen, cy);
          ctx.stroke();
          ctx.setLineDash([]);
        }
        drawLabel(ctx, it.parts, bx + L.textX, cy);
      });
      ctx.restore();
    },
  };
}

function buildConfig(spec: any) {
  const tickFont = { family: '"DejaVu Sans"', size: 12.5 };
  return {
    type: 'line',
    data: { datasets: spec.datasets },
    options: {
      animation: false,
      responsive: false,
      events: [],
      layout: { padding: { left: 0, right: spec.padRight, top: spec.padTop / SY, bottom: 0 } },
      plugins: { legend: { display: false }, tooltip: { enabled: false }, title: { display: false } },
      scales: {
        x: {
          type: 'linear',
          position: 'bottom',
          min: spec.xMin,
          max: spec.xMax,
          afterBuildTicks: (s: any) => {
            s.ticks = X_TICKS.map((v) => ({ value: v }));
          },
          afterFit: (s: any) => {
            s.height = spec.xAxisH / SY;
          },
          grid: { display: true, drawOnChartArea: false, drawTicks: true, tickLength: 3.5 / SY, tickColor: '#333', tickWidth: 1 },
          border: { display: false },
          ticks: { padding: 1, color: '#333', font: tickFont, maxRotation: 0, minRotation: 0, autoSkip: false, callback: (v: any) => String(v) },
        },
        y: {
          type: 'linear',
          position: 'left',
          min: spec.yMin,
          max: spec.yMax,
          afterBuildTicks: (s: any) => {
            s.ticks = spec.yTicks.map((v: number) => ({ value: v }));
          },
          afterFit: (s: any) => {
            s.width = spec.yAxisW;
          },
          grid: { display: true, drawOnChartArea: false, drawTicks: true, tickLength: 3.5, tickColor: '#333', tickWidth: 1 / SY },
          border: { display: false },
          ticks: { padding: spec.yPad, color: '#333', font: tickFont, autoSkip: false, callback: (v: any) => spec.yFmt(Number(v)) },
        },
      },
    },
    plugins: [overlayPlugin(spec)],
  };
}

function Panel({ spec }: { spec: any }) {
  const ref = useRef<HTMLCanvasElement>(null);
  const hv = Math.round(spec.height / SY);
  useEffect(() => {
    const chart = new Chart(ref.current as HTMLCanvasElement, buildConfig(spec) as any);
    return () => chart.destroy();
  }, [spec]);
  return (
    <div
      style={{
        position: 'absolute',
        left: spec.left,
        top: spec.top,
        width: spec.width,
        height: hv,
        transform: `scaleY(${SY})`,
        transformOrigin: '0 0',
      }}
    >
      <canvas ref={ref} width={spec.width} height={hv} style={{ display: 'block', width: spec.width, height: hv }} />
    </div>
  );
}

const TITLES = [
  { text: 'Time-varying Gaussian', cx: 253 },
  { text: 'Time-varying gamma', cx: 741 },
];
const X_LABELS = [
  { text: 't', cx: 247 },
  { text: 't', cx: 740 },
];

export default function App() {
  return (
    <div style={{ position: 'fixed', left: 0, top: 0, width: 951, height: 389, background: '#ffffff', overflow: 'hidden' }}>
      {PANELS.map((p) => (
        <Panel key={p.key} spec={p} />
      ))}
      {TITLES.map((t) => (
        <div
          key={t.text}
          style={{
            position: 'absolute',
            left: t.cx,
            top: 0,
            transform: 'translateX(-50%)',
            font: '22px "DejaVu Sans"',
            lineHeight: '22px',
            whiteSpace: 'nowrap',
            color: '#111',
          }}
        >
          {t.text}
        </div>
      ))}
      {X_LABELS.map((t, i) => (
        <div
          key={i}
          style={{
            position: 'absolute',
            left: t.cx,
            top: 359,
            transform: 'translateX(-50%)',
            font: 'italic 26px "DejaVu Serif"',
            lineHeight: '26px',
            color: '#111',
          }}
        >
          {t.text}
        </div>
      ))}
    </div>
  );
}
